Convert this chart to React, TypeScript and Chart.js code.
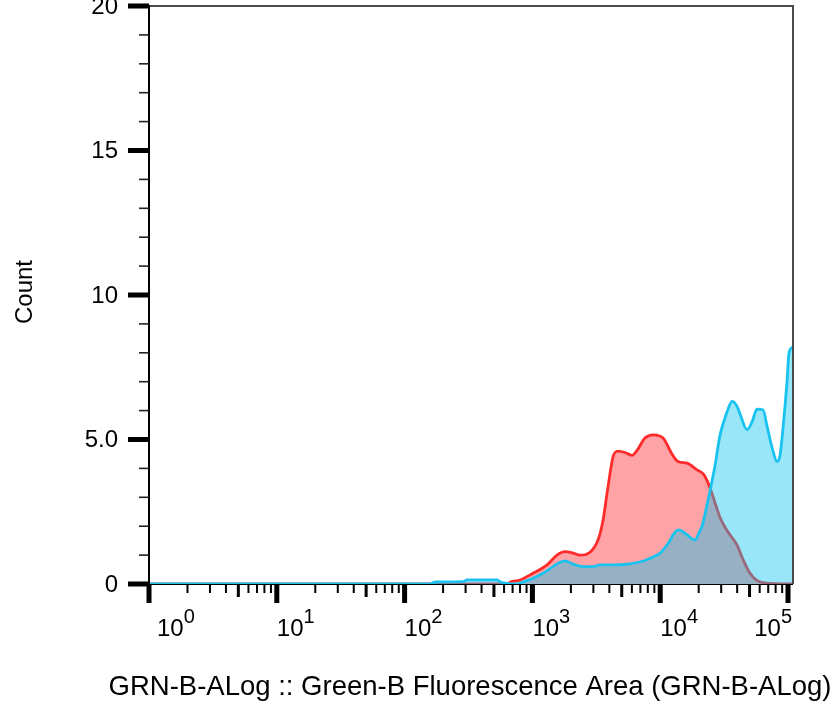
import React, { useEffect, useRef } from "react";
import { Chart, registerables } from "chart.js";

Chart.register(...registerables);

// Fluorescence (linear units) vs. event count, red sample
const redSeries: [number, number][] = [
  [1, 0], [640, 0], [668, 0.06], [800, 0.14], [1011, 0.37], [1301, 0.66],
  [1557, 1.0], [1799, 1.12], [2078, 1.07], [2357, 1.0], [2825, 1.1],
  [3260, 1.52], [3568, 2.2], [3906, 3.37], [4275, 4.4], [4677, 4.6],
  [5305, 4.55], [6016, 4.45], [6582, 4.62], [7600, 5.05], [8790, 5.16],
  [10520, 5.05], [12360, 4.5], [13770, 4.24], [16210, 4.18], [19410, 3.95],
  [21800, 3.8], [23660, 3.5], [26000, 3.0], [27820, 2.6], [29370, 2.3],
  [33330, 1.85], [39900, 1.35], [44460, 0.85], [50470, 0.37], [57180, 0.12],
  [72330, 0.02], [109400, 0],
];

// Fluorescence vs. event count, blue sample
const blueSeries: [number, number][] = [
  [1, 0], [160, 0], [167, 0.05], [179, 0.07], [286, 0.08], [308, 0.14],
  [528, 0.14], [557, 0.08], [633, 0.02], [758, 0], [844, 0.07], [1011, 0.2],
  [1211, 0.37], [1449, 0.6], [1644, 0.75], [1799, 0.8], [2078, 0.69],
  [2489, 0.6], [2980, 0.6], [3380, 0.66], [4300, 0.66], [5800, 0.7],
  [7000, 0.77], [7750, 0.83], [9440, 1.0], [10000, 1.07], [11300, 1.35],
  [12000, 1.52], [12600, 1.7], [14000, 1.87], [16000, 1.72], [18700, 1.52],
  [20480, 1.85], [21230, 1.99], [23660, 2.9], [26860, 4.1], [29370, 5.15],
  [33330, 5.95], [36480, 6.32], [39900, 6.15], [42000, 5.9], [47770, 5.34],
  [52270, 5.6], [57180, 6.05], [63700, 6.03], [69000, 5.4], [76330, 4.6],
  [82040, 4.24], [86550, 4.45], [91420, 5.4], [98230, 7.0], [101800, 8.0],
  [109400, 8.2],
];

const xMin = 1;
const xMax = 109400;
const xDecades = [0, 1, 2, 3, 4, 5];
const yMax = 20;
const yMajorTicks = [0, 5, 10, 15, 20];
const yMajorLabels = ["0", "5.0", "10", "15", "20"];
const yMinorStep = 1;

const xTitle = "GRN-B-ALog :: Green-B Fluorescence Area (GRN-B-ALog)";
const yTitle = "Count";

const FONT = '"Liberation Sans", Arial, sans-serif';

const flowAxes = {
  id: "flowAxes",
  beforeDatasetsDraw(chart: any) {
    const { ctx, chartArea } = chart;
    ctx.save();
    ctx.strokeStyle = "#000";
    ctx.lineWidth = 2;
    ctx.beginPath();
    ctx.moveTo(chartArea.left, chartArea.bottom);
    ctx.lineTo(chartArea.right, chartArea.bottom);
    ctx.stroke();
    ctx.restore();
  },
  afterDatasetsDraw(chart: any) {
    const { ctx, chartArea } = chart;
    const xs = chart.scales.x;
    const ys = chart.scales.y;
    const { left, right, top, bottom } = chartArea;
    ctx.save();

    // frame
    ctx.strokeStyle = "#4a4a4a";
    ctx.lineWidth = 2;
    ctx.beginPath();
    ctx.moveTo(left, top);
    ctx.lineTo(right, top);
    ctx.lineTo(right, bottom);
    ctx.stroke();

    ctx.strokeStyle = "#000";
    ctx.beginPath();
    ctx.moveTo(left, top - 1);
    ctx.lineTo(left, bottom + 1);
    ctx.stroke();

    // y ticks
    ctx.fillStyle = "#000";
    for (let v = 0; v <= yMax; v += yMinorStep) {
      const py = ys.getPixelForValue(v);
      if (yMajorTicks.includes(v)) {
        ctx.fillRect(left - 21, py - 2.5, 21, 5);
      } else {
        ctx.fillStyle = "#222";
        ctx.fillRect(left - 10, py - 0.8, 10, 1.6);
        ctx.fillStyle = "#000";
      }
    }
    ctx.font = `24px ${FONT}`;
    ctx.textAlign = "right";
    ctx.textBaseline = "middle";
    yMajorTicks.forEach((v, i) => {
      ctx.fillText(yMajorLabels[i], 118, ys.getPixelForValue(v) + 1);
    });

    // x ticks (log decades with 2..9 sub-ticks)
    xDecades.forEach((d) => {
      for (let m = 1; m <= 9; m++) {
        const v = m * Math.pow(10, d);
        if (v < xMin || v > xMax) continue;
        const px = xs.getPixelForValue(v);
        if (m === 1) {
          ctx.fillRect(px - 2.5, bottom, 5, 19);
        } else if (m === 5) {
          ctx.fillRect(px - 1.5, bottom, 3, 13);
        } else {
          ctx.fillRect(px - 1, bottom, 2, 9);
        }
      }
    });

    // x tick labels: 10 with superscript exponent
    xDecades.forEach((d, i) => {
      const px = xs.getPixelForValue(Math.pow(10, d));
      ctx.font = `24px ${FONT}`;
      const baseW = ctx.measureText("10").width;
      ctx.font = `20px ${FONT}`;
      const expW = ctx.measureText(String(d)).width;
      let x0 = px;
      if (i === 0) x0 = px + 8;
      if (i === xDecades.length - 1) x0 = right - 1 - baseW - expW;
      ctx.textAlign = "left";
      ctx.textBaseline = "alphabetic";
      ctx.font = `24px ${FONT}`;
      ctx.fillText("10", x0, 636);
      ctx.font = `20px ${FONT}`;
      ctx.fillText(String(d), x0 + baseW, 623);
    });

    // axis titles
    ctx.font = `27.5px ${FONT}`;
    ctx.textAlign = "center";
    ctx.textBaseline = "alphabetic";
    ctx.fillText(xTitle, 470, 695);

    ctx.save();
    ctx.translate(32, 292);
    ctx.rotate(-Math.PI / 2);
    ctx.font = `24px ${FONT}`;
    ctx.fillText(yTitle, 0, 0);
    ctx.restore();

    ctx.restore();
  },
};

export default function App() {
  const canvasRef = useRef<HTMLCanvasElement | null>(null);

  useEffect(() => {
    const canvas = canvasRef.current;
    if (!canvas) return;
    const chart = new Chart(canvas, {
      type: "line",
      data: {
        datasets: [
          {
            label: "blue",
            data: blueSeries.map(([x, y]) => ({ x, y })),
            borderColor: "#19c3f0",
            backgroundColor: "rgba(10,195,238,0.42)",
            borderWidth: 2.8,
            fill: "origin",
            pointRadius: 0,
            cubicInterpolationMode: "monotone",
          },
          {
            label: "red",
            data: redSeries.map(([x, y]) => ({ x, y })),
            borderColor: "#ff2a2a",
            backgroundColor: "#ffa3a6",
            borderWidth: 2.8,
            fill: "origin",
            pointRadius: 0,
            cubicInterpolationMode: "monotone",
          },
        ],
      },
      options: {
        animation: false,
        responsive: false,
        devicePixelRatio: 1,
        layout: { padding: { left: 149, right: 47, top: 6, bottom: 120 } },
        scales: {
          x: { type: "logarithmic", min: xMin, max: xMax, display: false },
          y: { type: "linear", min: 0, max: yMax, display: false },
        },
        plugins: {
          legend: { display: false },
          tooltip: { enabled: false },
        },
        events: [],
      },
      plugins: [flowAxes],
    });
    return () => chart.destroy();
  }, []);

  return (
    <div style={{ position: "absolute", left: 0, top: 0, width: 840, height: 704, background: "#fff" }}>
      <canvas ref={canvasRef} width={840} height={704} style={{ display: "block" }} />
    </div>
  );
}
